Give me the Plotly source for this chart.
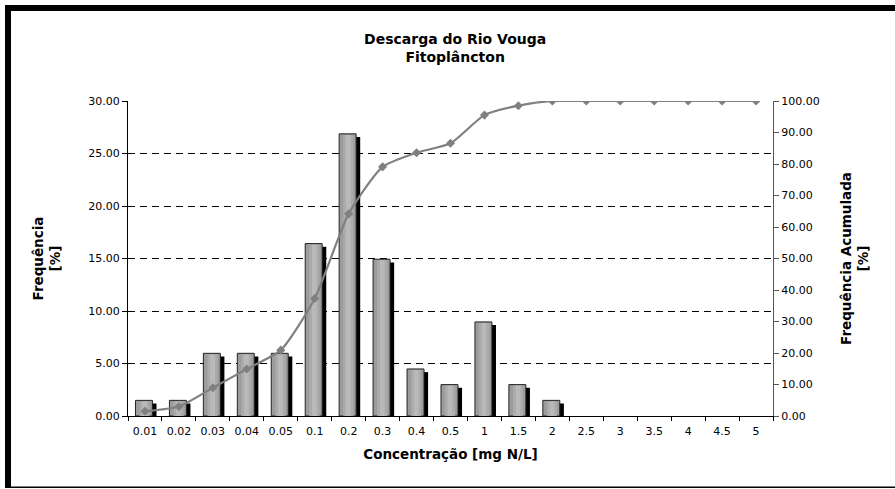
import plotly.graph_objects as go

categories = ["0.01", "0.02", "0.03", "0.04", "0.05", "0.1", "0.2", "0.3", "0.4", "0.5",
              "1", "1.5", "2", "2.5", "3", "3.5", "4", "4.5", "5"]
frequencia = [1.49, 1.49, 5.97, 5.97, 5.97, 16.42, 26.87, 14.93, 4.48, 2.99,
              8.96, 2.99, 1.49, 0, 0, 0, 0, 0, 0]
acumulada = [1.49, 2.99, 8.96, 14.93, 20.90, 37.31, 64.18, 79.10, 83.58, 86.57,
             95.52, 98.51, 100.0, 100.0, 100.0, 100.0, 100.0, 100.0, 100.0]

W, H = 895, 489
ML, MR, MT, MB = 128, 122, 101, 73
PW, PH = W - ML - MR, H - MT - MB

def px(x):
    return (x - ML) / PW

def py(y):
    return (H - MB - y) / PH

FONT = "DejaVu Sans"

bar_vals = [v if v > 0 else None for v in frequencia]
shadow_vals = [v - 0.3 if v > 0 else None for v in frequencia]
inner_vals = [v - 0.1 if v > 0 else None for v in frequencia]

fig = go.Figure()
# shadow bars
fig.add_trace(go.Bar(
    x=categories, y=shadow_vals,
    width=0.5, offset=-0.16,
    marker=dict(color="black", line=dict(width=0)),
    hoverinfo="skip", showlegend=False, yaxis="y"))
# main bars
fig.add_trace(go.Bar(
    x=categories, y=bar_vals,
    width=0.5, offset=-0.28,
    marker=dict(color="#9c9c9c", line=dict(color="#222222", width=1)),
    showlegend=False, yaxis="y"))
# highlight layers (cylinder-like shading)
fig.add_trace(go.Bar(
    x=categories, y=inner_vals,
    width=0.3, offset=-0.16,
    marker=dict(color="#ababab", line=dict(width=0)),
    hoverinfo="skip", showlegend=False, yaxis="y"))
fig.add_trace(go.Bar(
    x=categories, y=inner_vals,
    width=0.14, offset=-0.08,
    marker=dict(color="#b9b9b9", line=dict(width=0)),
    hoverinfo="skip", showlegend=False, yaxis="y"))
# cumulative line
fig.add_trace(go.Scatter(
    x=categories, y=acumulada, mode="lines+markers",
    line=dict(color="#808080", width=2.2, shape="spline", smoothing=0.6),
    marker=dict(symbol="diamond", size=7, color="#808080"),
    showlegend=False, yaxis="y2"))

fig.update_layout(
    width=W, height=H,
    margin=dict(l=ML, r=MR, t=MT, b=MB),
    paper_bgcolor="white", plot_bgcolor="white",
    barmode="overlay",
    font=dict(family=FONT, size=11, color="black"),
    title=dict(text="<b>Descarga do Rio Vouga<br>Fitoplâncton</b>",
               x=px(456), xanchor="center", y=1 - 44 / H, yanchor="middle",
               font=dict(family=FONT, size=14, color="black")),
    xaxis=dict(
        type="category", range=[-0.5, 18.5],
        showline=True, linecolor="black", linewidth=1,
        ticks="outside", ticklen=4, tickcolor="black", tickson="boundaries",
        tickfont=dict(size=11), ticklabelstandoff=5,
        title=dict(text="<b>Concentração [mg N/L]</b>", standoff=12,
                   font=dict(size=13.5)),
        showgrid=False, zeroline=False),
    yaxis=dict(
        range=[0, 30], dtick=5, tickformat=".2f",
        showline=True, linecolor="black", linewidth=1,
        ticks="outside", ticklen=5, tickcolor="black",
        showgrid=True, gridcolor="black", gridwidth=1, griddash="7px,5px",
        zeroline=False,
        title=dict(text="<b>Frequência<br>[%]</b>", standoff=24,
                   font=dict(size=13.5))),
    yaxis2=dict(
        range=[0, 100], dtick=10, tickformat=".2f",
        overlaying="y", side="right",
        showline=True, linecolor="#555555", linewidth=1,
        ticks="outside", ticklen=5, tickcolor="#555555",
        showgrid=False, zeroline=False,
        title=dict(text="<b>Frequência Acumulada<br>[%]</b>", standoff=22,
                   font=dict(size=13.5))),
)

# outer frame (thick top and left, thin bottom)
fig.add_shape(type="rect", xref="paper", yref="paper",
              x0=px(5), x1=px(W), y0=py(5), y1=py(11),
              fillcolor="black", line=dict(width=0), layer="above")
fig.add_shape(type="rect", xref="paper", yref="paper",
              x0=px(5), x1=px(11), y0=py(5), y1=py(488),
              fillcolor="black", line=dict(width=0), layer="above")
fig.add_shape(type="rect", xref="paper", yref="paper",
              x0=px(5), x1=px(W), y0=py(486.5), y1=py(488),
              fillcolor="black", line=dict(width=0), layer="above")

fig.write_html("out.html", config={"displayModeBar": False},
               post_script="document.body.style.margin='0px';")
